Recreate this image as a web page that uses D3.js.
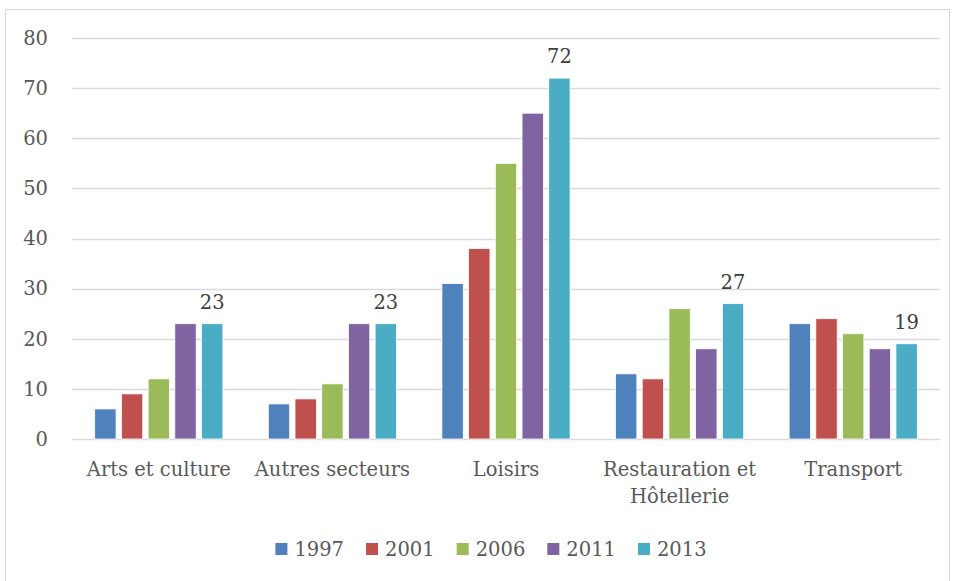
<!DOCTYPE html>
<html>
<head>
<meta charset="utf-8">
<script src="https://cdn.jsdelivr.net/npm/d3@7"></script>
<style>
  html, body { margin: 0; padding: 0; background: #fff; }
  svg { display: block; }
  text { font-family: "DejaVu Serif", "Liberation Serif", serif; }
</style>
</head>
<body>
<svg id="chart" width="955" height="581"></svg>
<script>
// Categories, series and values
const categories = ["Arts et culture", "Autres secteurs", "Loisirs", "Restauration et Hôtellerie", "Transport"];
const categoryLines = [["Arts et culture"], ["Autres secteurs"], ["Loisirs"], ["Restauration et", "Hôtellerie"], ["Transport"]];
const years = ["1997", "2001", "2006", "2011", "2013"];
const colors = ["#4f81bd", "#c0504d", "#9bbb59", "#8064a2", "#4bacc6"];
const v1997 = [6, 7, 31, 13, 23];
const v2001 = [9, 8, 38, 12, 24];
const v2006 = [12, 11, 55, 26, 21];
const v2011 = [23, 23, 65, 18, 18];
const v2013 = [23, 23, 72, 27, 19];
const seriesValues = [v1997, v2001, v2006, v2011, v2013];
const yTicks = [0, 10, 20, 30, 40, 50, 60, 70, 80];
const labelledSeries = "2013";

const svg = d3.select("#chart");
const W = 955, H = 581;
const m = { left: 72, right: 15, top: 38, bottom: 142 };
const FS = 19.5;

// outer frame
svg.append("rect")
  .attr("x", 5.5).attr("y", 9.5)
  .attr("width", 944).attr("height", 575)
  .attr("fill", "none").attr("stroke", "#d9d9d9").attr("stroke-width", 1);

const x0 = d3.scaleBand().domain(categories).range([m.left, W - m.right]).paddingInner(0).paddingOuter(0);
const x1 = d3.scaleBand().domain(years).range([0, x0.bandwidth()]).paddingInner(0.2).paddingOuter(0.85);
const y = d3.scaleLinear().domain([0, 80]).range([H - m.bottom, m.top]);

// gridlines
svg.append("g").selectAll("line").data(yTicks).join("line")
  .attr("x1", m.left).attr("x2", W - m.right)
  .attr("y1", d => Math.round(y(d)) + 0.5).attr("y2", d => Math.round(y(d)) + 0.5)
  .attr("stroke", "#d9d9d9").attr("stroke-width", 1.3);

// y axis labels
const yAxis = d3.axisLeft(y).tickValues(yTicks).tickSize(0).tickPadding(24);
const ya = svg.append("g").attr("transform", `translate(${m.left},0)`).call(yAxis);
ya.select(".domain").remove();
ya.selectAll("text")
  .attr("fill", "#595959").attr("font-size", FS)
  .style("font-family", "'DejaVu Serif', serif");

// bars
const rows = categories.map((c, i) => ({ c, i }));
const groups = svg.append("g").selectAll("g").data(rows).join("g")
  .attr("transform", d => `translate(${x0(d.c)},0)`);

groups.selectAll("rect")
  .data(d => years.map((yr, k) => ({ yr, k, v: seriesValues[k][d.i] })))
  .join("rect")
  .attr("x", d => x1(d.yr))
  .attr("width", x1.bandwidth())
  .attr("y", d => y(d.v))
  .attr("height", d => y(0) - y(d.v))
  .attr("fill", d => colors[d.k])
  .attr("stroke", "#fff").attr("stroke-width", 0.8);

// value labels on the 2013 series
groups.append("text")
  .datum(d => ({ v: seriesValues[years.indexOf(labelledSeries)][d.i] }))
  .attr("x", x1(labelledSeries) + x1.bandwidth() / 2)
  .attr("y", d => y(d.v) - 15)
  .attr("text-anchor", "middle")
  .attr("fill", "#404040").attr("font-size", FS)
  .text(d => d.v);

// category labels
const xl = svg.append("g");
categories.forEach((c, i) => {
  const t = xl.append("text")
    .attr("x", x0(c) + x0.bandwidth() / 2)
    .attr("y", 476)
    .attr("text-anchor", "middle")
    .attr("fill", "#595959").attr("font-size", FS);
  categoryLines[i].forEach((ln, j) => {
    t.append("tspan").attr("x", x0(c) + x0.bandwidth() / 2).attr("dy", j === 0 ? 0 : 27).text(ln);
  });
});

// legend
const legend = svg.append("g").attr("transform", "translate(0,549)");
const itemW = [];
const tmp = legend.append("text").attr("font-size", FS);
years.forEach(yr => { tmp.text(yr); itemW.push(tmp.node().getComputedTextLength()); });
tmp.remove();
const box = 12, gapBT = 7, gapItems = 22;
const total = itemW.reduce((a, w) => a + box + gapBT + w, 0) + gapItems * (years.length - 1);
let lx = (m.left + W - m.right) / 2 - total / 2 - 15;
years.forEach((yr, k) => {
  legend.append("rect").attr("x", lx).attr("y", -6).attr("width", box).attr("height", box).attr("fill", colors[k]);
  legend.append("text").attr("x", lx + box + gapBT).attr("y", 7)
    .attr("fill", "#595959").attr("font-size", FS).text(yr);
  lx += box + gapBT + itemW[k] + gapItems;
});
</script>
</body>
</html>
